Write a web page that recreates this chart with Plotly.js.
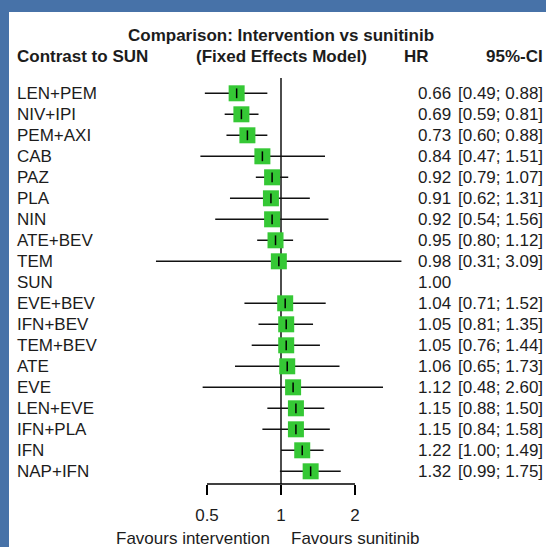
<!DOCTYPE html>
<html><head><meta charset="utf-8">
<script src="https://cdn.plot.ly/plotly-3.0.1.min.js"></script>
<style>html,body{margin:0;padding:0;background:#fff;}#chart{width:546px;height:547px;}</style>
</head><body><div id="chart"></div>
<script>
// ---- data ----
const treatments = ['LEN+PEM','NIV+IPI','PEM+AXI','CAB','PAZ','PLA','NIN','ATE+BEV','TEM','SUN',
  'EVE+BEV','IFN+BEV','TEM+BEV','ATE','EVE','LEN+EVE','IFN+PLA','IFN','NAP+IFN'];
const hr      = [0.66,0.69,0.73,0.84,0.92,0.91,0.92,0.95,0.98,1.00,1.04,1.05,1.05,1.06,1.12,1.15,1.15,1.22,1.32];
const ciLower = [0.49,0.59,0.60,0.47,0.79,0.62,0.54,0.80,0.31,null,0.71,0.81,0.76,0.65,0.48,0.88,0.84,1.00,0.99];
const ciUpper = [0.88,0.81,0.88,1.51,1.07,1.31,1.56,1.12,3.09,null,1.52,1.35,1.44,1.73,2.60,1.50,1.58,1.49,1.75];
const tickValues = [0.5, 1, 2];
const tickLabels = ['0.5', '1', '2'];
const refValue = 1;
const titleLine1 = 'Comparison: Intervention vs sunitinib';
const titleLine2 = '(Fixed Effects Model)';
const colHeaderLeft = 'Contrast to SUN';
const colHeaderHR = 'HR';
const colHeaderCI = '95%-CI';
const labelLeft = 'Favours intervention';
const labelRight = 'Favours sunitinib';

// ---- layout geometry ----
const W = 546, H = 547;
const rowTop = 93.3, rowStep = 21.0, axisPx = 484;
const refPx = 281, pxPerDoubling = 74;
const L2 = Math.log10(2);
const xRange = [(0 - refPx) / pxPerDoubling * L2, (W - refPx) / pxPerDoubling * L2];
const yTop = rowTop / rowStep;
const yBottom = yTop - H / rowStep;
const pxToY = px => yTop - px / rowStep;
const pxToPaperY = px => 1 - px / H;
const rowY = treatments.map((_, i) => -i);

const FONT = 'Liberation Sans, Arial, Helvetica, sans-serif';
const TXT = '#1c1c1c';
const FS = 17;

// CI segments
const ciX = [], ciY = [];
treatments.forEach((t, i) => {
  if (ciLower[i] != null) { ciX.push(ciLower[i], ciUpper[i], null); ciY.push(rowY[i], rowY[i], null); }
});
const hasCI = treatments.map((t, i) => ciLower[i] != null);
const sqX = hr.filter((v, i) => hasCI[i]);
const sqY = rowY.filter((v, i) => hasCI[i]);

const traces = [
  { x: [refValue, refValue], y: [pxToY(78), pxToY(axisPx)], mode: 'lines', line: {color: '#000', width: 1.4}, hoverinfo: 'skip' },
  { x: [tickValues[0], tickValues[tickValues.length - 1]], y: [pxToY(axisPx), pxToY(axisPx)], mode: 'lines', line: {color: '#000', width: 1.4}, hoverinfo: 'skip' },
  { x: ciX, y: ciY, mode: 'lines', line: {color: '#111', width: 1.6}, hoverinfo: 'skip' },
  { x: sqX, y: sqY, mode: 'markers', marker: {symbol: 'square', size: 16, color: '#35c835', line: {width: 0}} },
  { x: sqX, y: sqY, mode: 'markers', marker: {symbol: 'line-ns', size: 7, color: '#000', line: {width: 1.5, color: '#000'}} }
];

const ann = [];
treatments.forEach((t, i) => {
  ann.push({ xref: 'paper', yref: 'y', x: 15 / W, y: rowY[i], text: t, showarrow: false, xanchor: 'left', yanchor: 'middle', font: {family: FONT, size: FS, color: TXT} });
  ann.push({ xref: 'paper', yref: 'y', x: 453 / W, y: rowY[i], text: hr[i].toFixed(2), showarrow: false, xanchor: 'right', yanchor: 'middle', font: {family: FONT, size: FS, color: TXT} });
  if (hasCI[i]) {
    ann.push({ xref: 'paper', yref: 'y', x: 545 / W, y: rowY[i], text: '[' + ciLower[i].toFixed(2) + '; ' + ciUpper[i].toFixed(2) + ']', showarrow: false, xanchor: 'right', yanchor: 'middle', font: {family: FONT, size: FS, color: TXT} });
  }
});
const hdr = (text, x, xanchor, px, xref) => ({ xref: xref || 'paper', yref: 'paper', x: x, y: pxToPaperY(px), text: '<b>' + text + '</b>', showarrow: false, xanchor: xanchor, yanchor: 'middle', font: {family: FONT, size: FS, color: TXT} });
ann.push(hdr(titleLine1, Math.log10(refValue), 'center', 35, 'x'));
ann.push(hdr(titleLine2, Math.log10(refValue), 'center', 56, 'x'));
ann.push(hdr(colHeaderLeft, 15 / W, 'left', 56));
ann.push(hdr(colHeaderHR, 416 / W, 'center', 56));
ann.push(hdr(colHeaderCI, 545 / W, 'right', 56));
ann.push({ xref: 'x', yref: 'paper', x: Math.log10(refValue), y: pxToPaperY(538), xshift: -9, text: labelLeft, showarrow: false, xanchor: 'right', yanchor: 'middle', font: {family: FONT, size: FS, color: TXT} });
ann.push({ xref: 'x', yref: 'paper', x: Math.log10(refValue), y: pxToPaperY(538), xshift: 8, text: labelRight, showarrow: false, xanchor: 'left', yanchor: 'middle', font: {family: FONT, size: FS, color: TXT} });

const BLUE = '#4772a8';
const layout = {
  width: W, height: H, autosize: false,
  margin: {l: 0, r: 0, t: 0, b: 0, pad: 0},
  paper_bgcolor: '#fff', plot_bgcolor: '#fff',
  showlegend: false,
  xaxis: { type: 'log', range: xRange, tickvals: tickValues, ticktext: tickLabels,
    ticks: 'outside', ticklen: 10, tickwidth: 1.4, tickcolor: '#000',
    showline: false, showgrid: false, zeroline: false,
    anchor: 'free', position: 1 - axisPx / H, ticklabelstandoff: 6,
    tickfont: {family: FONT, size: FS, color: TXT}, fixedrange: true },
  yaxis: { range: [yBottom, yTop], visible: false, fixedrange: true },
  annotations: ann,
  shapes: [
    { type: 'rect', xref: 'paper', yref: 'paper', x0: 0, x1: 9 / W, y0: 0, y1: 1, fillcolor: BLUE, line: {width: 0}, layer: 'above' },
    { type: 'rect', xref: 'paper', yref: 'paper', x0: 0, x1: 1, y0: 1 - 12 / H, y1: 1, fillcolor: BLUE, line: {width: 0}, layer: 'above' }
  ]
};
Plotly.newPlot('chart', traces, layout, {displayModeBar: false, staticPlot: true});
</script>
</body></html>
